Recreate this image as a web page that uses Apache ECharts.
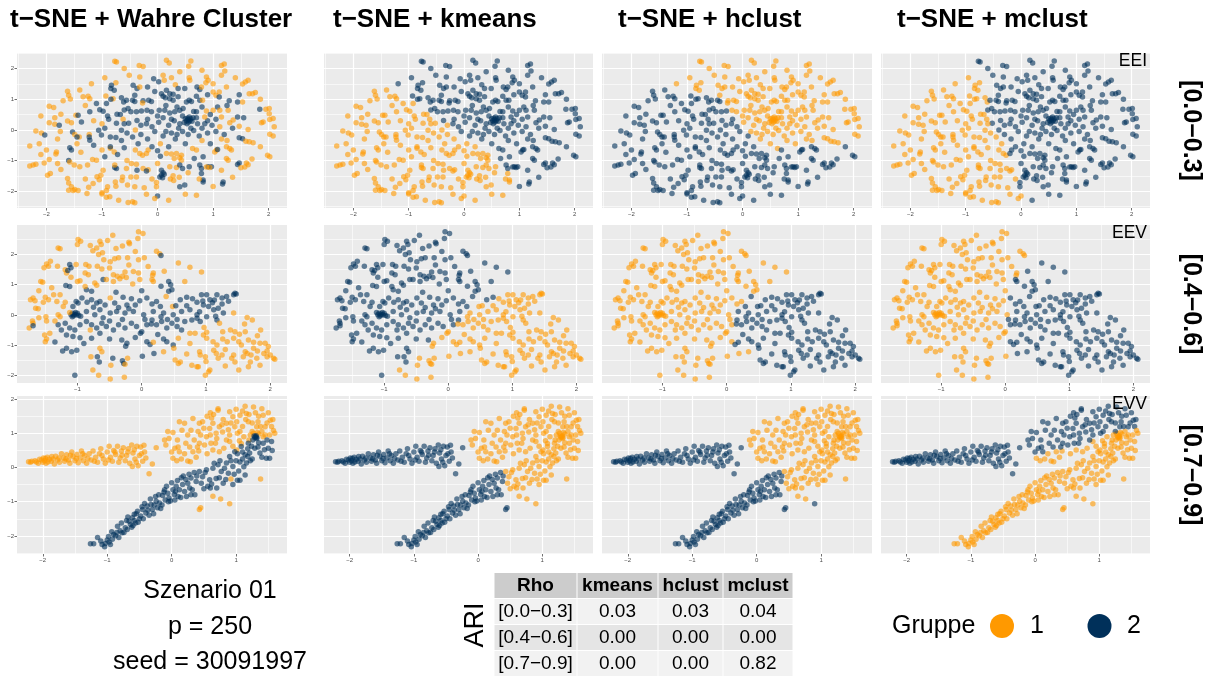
<!DOCTYPE html>
<html>
<head>
<meta charset="utf-8">
<script src="https://cdn.jsdelivr.net/npm/echarts/dist/echarts.min.js"></script>
<style>
html,body{margin:0;padding:0;background:#ffffff;}
#chart{width:1212px;height:679px;}
</style>
</head>
<body>
<div id="chart"></div>
<script>
// t-SNE embeddings, one list per correlation range.
// Each point: [x, y, groups]; groups holds the group (1/2) of the point for
// the true clusters, kmeans, hclust and mclust, in that order.
const rho1Points = [
[-0.77,2.24,'1212'],[-0.74,2.22,'1212'],[-0.33,2.10,'1212'],[-0.26,2.07,'1212'],[0.16,2.27,'1212'],[0.21,2.18,'1212'],[0.60,2.25,'1212'],[0.56,2.08,'1212'],[1.15,2.10,'1212'],[1.20,2.15,'1212'],[1.21,1.92,'1212'],[-0.51,1.78,'1212'],[-0.32,1.73,'1212'],[-0.07,1.67,'2212'],[0.10,1.78,'1212'],[0.12,1.62,'1212'],[0.25,1.70,'1212'],[0.02,1.57,'2212'],[0.57,1.70,'1212'],[0.58,1.62,'1212'],[0.88,1.73,'1212'],[0.91,1.62,'1212'],[0.87,1.54,'1212'],[1.15,1.78,'1212'],[1.63,1.62,'1212'],[1.58,1.56,'1212'],[1.53,1.50,'1212'],[-1.19,1.51,'1211'],[-0.75,1.54,'1211'],[-0.83,1.46,'2211'],[0.32,1.47,'1212'],[1.00,1.51,'1212'],
[-0.84,1.35,'2211'],[-0.78,1.29,'2211'],[-0.44,1.46,'2212'],[-0.37,1.35,'2212'],[-0.32,1.40,'1212'],[-0.18,1.40,'2212'],[0.16,1.29,'2212'],[0.22,1.18,'2212'],[0.28,1.16,'2212'],[0.37,1.35,'2212'],[0.49,1.35,'2212'],[0.71,1.40,'2212'],[0.76,1.32,'2212'],[0.79,1.40,'1212'],[1.24,1.40,'1212'],[-1.62,1.26,'1121'],[-1.60,1.13,'1121'],[-1.57,1.01,'1121'],[-1.34,1.08,'1121'],[-1.25,1.10,'1121'],[-1.22,1.02,'1121'],[-0.93,1.11,'1221'],[-0.65,1.05,'2221'],[-0.41,1.13,'2212'],[0.07,1.18,'2212'],[0.10,1.10,'2212'],[0.37,1.08,'2212'],[0.70,1.10,'2212'],[1.00,1.24,'1212'],[1.11,1.24,'1212'],[1.05,1.13,'1212'],[1.11,1.07,'2212'],[1.47,1.15,'2212'],[1.65,1.18,'1212'],[1.71,1.18,'1212'],[1.76,1.22,'1212'],[-0.80,1.02,'1221'],
[-1.95,0.77,'1121'],[-1.87,0.73,'1121'],[-1.10,0.86,'2121'],[-0.84,1.00,'2221'],[-0.92,0.86,'2121'],[-0.61,0.91,'2221'],[-0.56,0.97,'2222'],[-0.45,0.97,'2222'],[-0.41,0.93,'2222'],[-0.26,0.95,'2212'],[-0.27,0.88,'1212'],[-0.16,0.97,'2212'],[-0.11,0.93,'2212'],[0.14,1.05,'2212'],[0.22,1.02,'2212'],[0.28,0.97,'2212'],[0.52,0.91,'2212'],[0.57,0.97,'2212'],[0.61,0.93,'2212'],[0.76,0.97,'2212'],[0.81,0.97,'1212'],[1.29,0.95,'2212'],[1.44,0.91,'2212'],[1.53,0.91,'1212'],[-1.04,0.66,'2121'],[-0.98,0.61,'2121'],[-1.22,0.59,'2121'],[-1.74,0.51,'1121'],[-1.47,0.48,'1121'],[-1.43,0.48,'2121'],[-0.73,0.51,'2121'],[-0.67,0.50,'2121'],[-0.53,0.70,'2222'],[-0.48,0.59,'2222'],[-0.38,0.59,'2222'],[-0.29,0.62,'2222'],[-0.19,0.64,'2212'],[-0.11,0.59,'2212'],[0.03,0.64,'2212'],[0.13,0.64,'2212'],[0.22,0.55,'2212'],[0.31,0.59,'2212'],[0.40,0.64,'2212'],[0.46,0.70,'2212'],[0.70,0.59,'2212'],[0.88,0.62,'1212'],[1.00,0.64,'1212'],[1.08,0.75,'2212'],[1.12,0.64,'1212'],[1.27,0.64,'1212'],[1.84,0.67,'2212'],[1.95,0.67,'1212'],[2.01,0.70,'1212'],[2.01,0.53,'1212'],
[0.52,0.30,'2212'],[0.55,0.34,'2212'],[0.58,0.30,'2212'],[0.54,0.38,'2212'],[0.60,0.36,'2212'],[0.50,0.36,'2212'],[0.56,0.26,'2212'],[0.62,0.28,'2212'],[0.48,0.24,'2212'],[0.57,0.42,'2212'],[0.53,0.20,'2212'],[0.64,0.40,'2212'],
[-1.95,0.23,'1121'],[-1.85,0.18,'1121'],[-1.77,0.15,'2121'],[-1.62,0.29,'1121'],[-1.55,0.23,'1121'],[-1.37,0.26,'2121'],[-1.15,0.30,'1121'],[-1.00,0.20,'1121'],[-0.88,0.35,'2121'],[-0.74,0.22,'2121'],[-0.62,0.35,'1121'],[-0.52,0.22,'2122'],[-0.37,0.31,'2222'],[-0.30,0.15,'2122'],[-0.18,0.35,'2222'],[-0.10,0.10,'2222'],[0.02,0.25,'2212'],[0.10,0.40,'2212'],[0.20,0.15,'2212'],[0.30,0.30,'2212'],[0.38,0.05,'2212'],[0.72,0.20,'2212'],[0.80,0.05,'2212'],[0.90,0.30,'2212'],[0.98,0.15,'2212'],[1.12,0.10,'1212'],[1.15,0.42,'1212'],[1.30,0.23,'1212'],[1.36,0.32,'1212'],[1.44,0.42,'2212'],[1.55,0.40,'2212'],[1.47,0.12,'1212'],[1.63,0.01,'1212'],[1.90,0.26,'1212'],[1.87,0.23,'1212'],[2.08,0.37,'1212'],[2.02,0.34,'1212'],[0.85,0.42,'1212'],
[-2.19,-0.04,'1121'],[-2.09,-0.10,'1121'],[-2.03,-0.17,'2121'],[-1.53,-0.07,'2121'],[-1.49,-0.15,'1121'],[-1.41,-0.23,'1121'],[-1.45,-0.23,'2121'],[-2.30,-0.53,'1121'],[-2.13,-0.45,'1121'],[-1.80,-0.30,'1121'],[-1.23,-0.15,'1121'],[-1.23,-0.23,'2121'],[-1.22,-0.34,'2121'],[-1.06,-0.01,'2121'],[-1.01,-0.17,'2121'],[-0.85,-0.23,'2121'],[-0.75,-0.25,'2121'],[-0.65,-0.01,'2121'],[-0.55,-0.10,'2121'],[-0.45,-0.23,'2121'],[-0.40,0.00,'1122'],[-0.30,-0.15,'2122'],[-0.18,-0.30,'2122'],[-0.05,-0.05,'2222'],[0.10,-0.20,'2222'],[0.25,-0.10,'2212'],[0.32,-0.30,'2212'],[0.45,-0.05,'2212'],[0.55,-0.15,'2212'],[0.65,-0.02,'2212'],[0.75,-0.20,'2212'],[0.90,-0.10,'2212'],[1.05,-0.05,'2212'],[1.15,-0.30,'1212'],[1.25,-0.35,'1212'],[1.47,-0.26,'2212'],[1.53,-0.29,'2212'],[1.59,-0.37,'1212'],[1.65,-0.39,'1212'],[1.72,-0.42,'1212'],[2.02,-0.14,'1212'],[2.08,-0.20,'1212'],[0.80,-0.35,'1212'],[0.05,-0.45,'1122'],
[-2.00,-0.66,'1121'],[-1.82,-0.72,'1121'],[-1.83,-0.79,'1121'],[-1.58,-0.58,'2121'],[-1.55,-0.66,'2121'],[-1.38,-0.73,'1121'],[-1.00,-0.66,'1121'],[-0.85,-0.60,'1121'],[-0.78,-0.72,'1121'],[-0.95,-0.88,'2121'],[-0.85,-0.55,'2121'],[-0.72,-0.80,'2121'],[-0.60,-0.58,'2121'],[-0.40,-0.66,'1121'],[-0.32,-0.77,'1121'],[-0.27,-0.83,'1121'],[-0.20,-0.77,'1122'],[-0.17,-0.66,'1122'],[0.00,-0.68,'2122'],[0.05,-0.86,'2122'],[0.16,-0.77,'1122'],[0.25,-0.79,'1122'],[0.34,-0.77,'1122'],[0.43,-0.83,'1122'],[0.40,-0.91,'1122'],[0.30,-0.93,'1122'],[0.63,-0.61,'1212'],[0.70,-0.66,'1222'],[0.66,-0.93,'2222'],[0.82,-0.88,'2222'],[1.03,-0.72,'1222'],[1.06,-0.66,'1222'],[1.08,-0.64,'2222'],[1.24,-0.55,'1222'],[1.30,-0.61,'1222'],[1.33,-0.66,'1222'],[1.24,-0.93,'1222'],[1.27,-0.99,'1222'],[1.98,-0.83,'1222'],[2.02,-0.88,'1222'],[-1.95,-0.97,'1121'],
[-2.30,-1.18,'1121'],[-2.24,-1.15,'1121'],[-2.19,-1.12,'1121'],[-2.04,-1.08,'1121'],[-1.74,-1.29,'1121'],[-1.60,-1.00,'2121'],[-1.58,-1.05,'1121'],[-1.50,-1.15,'1121'],[-1.40,-1.20,'1121'],[-1.26,-1.15,'1121'],[-1.17,-0.97,'1121'],[-1.10,-0.99,'1121'],[-0.98,-1.32,'1121'],[-0.77,-1.23,'2121'],[-0.74,-1.26,'2121'],[-0.77,-1.15,'1121'],[-0.56,-1.26,'1121'],[-0.47,-1.10,'1121'],[-0.38,-1.12,'1121'],[-0.26,-1.26,'1121'],[-0.17,-1.30,'1121'],[-0.37,-1.32,'2121'],[-0.20,-1.34,'2121'],[0.00,-1.10,'1122'],[0.22,-1.20,'1122'],[0.34,-1.23,'1122'],[0.43,-0.99,'1122'],[0.40,-1.15,'2122'],[0.45,-1.26,'2122'],[0.57,-1.20,'2122'],[0.76,-1.15,'2222'],[0.79,-1.26,'2222'],[0.91,-1.20,'2222'],[0.97,-1.20,'2222'],[0.88,-1.21,'1222'],[0.94,-1.23,'1222'],[1.15,-1.32,'1222'],[1.60,-1.08,'1222'],[1.63,-1.14,'1222'],[1.57,-1.21,'1222'],[1.47,-1.08,'2222'],[1.44,-1.13,'2222'],[1.50,-1.24,'1222'],[0.07,-1.32,'2122'],[0.10,-1.40,'2122'],[0.12,-1.45,'2122'],[0.07,-1.48,'2122'],[0.04,-1.54,'2122'],[0.09,-1.56,'2122'],
[-1.98,-1.48,'1121'],[-1.93,-1.42,'1121'],[-1.62,-1.59,'1121'],[-1.60,-1.73,'1121'],[-1.55,-1.86,'1121'],[-1.49,-1.95,'1121'],[-1.52,-1.98,'1121'],[-1.60,-1.97,'1121'],[-1.43,-1.98,'1121'],[-1.27,-2.08,'1121'],[-1.24,-1.87,'1121'],[-1.16,-1.75,'1121'],[-1.09,-1.53,'1121'],[-1.02,-1.48,'1121'],[-1.05,-1.63,'1121'],[-1.00,-2.05,'1121'],[-1.00,-2.09,'1121'],[-0.92,-1.98,'1121'],[-0.90,-1.86,'1121'],[-0.92,-2.20,'1121'],[-0.86,-2.18,'1121'],[-0.75,-1.84,'1121'],[-0.76,-1.70,'1121'],[-0.64,-1.65,'1121'],[-0.63,-1.54,'1121'],[-0.54,-1.80,'1121'],[-0.48,-1.54,'1121'],[-0.41,-1.86,'1121'],[-0.38,-1.54,'1121'],[-0.24,-1.89,'1121'],[-0.53,-2.37,'1121'],[-0.45,-2.35,'1121'],[-0.41,-2.38,'1121'],[0.00,-2.16,'2121'],[-0.05,-2.24,'1121'],[-0.02,-1.72,'1122'],[-0.02,-1.86,'1122'],[0.40,-1.86,'2122'],[0.49,-1.80,'2122'],[0.79,-1.42,'2122'],[0.82,-1.64,'2122'],[0.82,-1.70,'2122'],[1.18,-1.70,'2222'],[1.17,-1.77,'2222'],[0.70,-2.13,'1122'],[0.23,-1.60,'1122'],[0.29,-1.65,'1122'],[0.39,-1.55,'1122'],[0.28,-1.50,'1122'],[0.75,-1.60,'1122'],
[-0.60,0.20,'2121'],[-0.20,0.20,'2222'],[0.00,0.45,'2212'],[0.15,0.80,'2212'],[0.35,0.75,'2212'],[0.45,0.45,'2212'],[0.65,0.60,'2212'],[0.80,0.75,'2212'],[0.95,0.50,'2212'],[1.05,0.35,'2212'],[0.40,0.20,'2212'],[0.70,0.40,'2212'],[0.85,0.20,'2212'],[0.25,0.35,'2212'],[0.60,0.05,'2212'],[0.35,-0.15,'2212'],[0.15,-0.05,'2212'],[-0.35,-0.45,'2121'],[-0.10,-0.55,'2122'],[0.20,-0.55,'2122'],[0.50,-0.45,'2212'],[0.95,-0.45,'2212'],[1.20,-0.15,'2212'],[1.35,0.05,'2212'],[1.25,0.80,'2212'],[0.90,1.15,'2212'],[-0.05,1.25,'2212'],[-0.60,0.65,'2222'],[-0.90,0.45,'2121'],[-1.15,-0.50,'2121'],[-0.65,-0.35,'2121'],[-0.95,0.05,'2121'],
[-2.10,0.45,'1121'],[-1.70,0.95,'1121'],[-1.40,1.30,'1121'],[-0.95,1.70,'1211'],[-0.60,2.00,'1212'],[0.40,1.90,'1212'],[0.80,1.95,'1212'],[1.40,1.70,'1212'],[1.85,1.00,'1212'],[2.10,0.10,'1212'],[1.85,-0.55,'1222'],[1.70,-0.95,'1222'],[1.35,-1.55,'1222'],[1.00,-1.85,'1222'],[0.50,-2.10,'1122'],[0.20,-2.30,'1122'],[-0.20,-2.10,'1121'],[-0.70,-2.30,'1121'],[-1.30,-1.60,'1121'],[-1.80,-1.10,'1121'],[-2.10,-0.80,'1121'],[-1.75,-0.05,'1121'],[-1.30,0.80,'1121'],[-0.55,-1.00,'1121'],[-0.10,-1.60,'1121'],[0.55,-1.40,'1122'],[-1.45,-0.45,'1121'],[-1.85,0.40,'1121']
];

const rho2Points = [
[-0.05,2.76,'1211'],[0.02,2.70,'1211'],[-0.45,2.64,'1211'],[-0.65,2.44,'1211'],[-0.63,2.33,'1211'],[-0.53,2.47,'1211'],[-0.99,2.50,'1211'],[-0.95,2.44,'1211'],[-1.00,2.33,'1211'],[-0.76,2.13,'1211'],[-0.70,2.22,'1211'],[-0.20,2.41,'1211'],[-0.19,2.36,'1211'],[-0.30,2.28,'1211'],[-0.06,2.53,'1211'],[-1.30,2.22,'1211'],[-1.27,2.19,'1211'],[-0.61,2.06,'1211'],[0.23,2.11,'1211'],[0.28,2.03,'1211'],[0.30,1.97,'2211'],[-0.67,2.00,'1211'],
[-1.42,1.78,'1211'],[-1.48,1.69,'1211'],[-1.52,1.56,'1211'],[-1.45,1.61,'1211'],[-1.31,1.61,'1211'],[-1.19,1.50,'1211'],[-1.17,1.39,'1211'],[-1.12,1.67,'2211'],[-1.10,1.56,'2211'],[-1.15,1.47,'2211'],[-1.02,1.67,'1211'],[-0.87,1.67,'1211'],[-0.82,1.61,'1211'],[-0.88,1.39,'1211'],[-0.83,1.33,'1211'],[-0.69,1.61,'1211'],[-0.62,1.52,'1211'],[-0.59,1.83,'1211'],[-0.49,1.76,'1211'],[-0.42,1.86,'1211'],[-0.36,1.89,'1211'],[-0.22,1.89,'1211'],[-0.05,1.83,'1211'],[0.04,1.89,'1211'],[-0.44,1.33,'1211'],[-0.38,1.28,'1211'],[-0.30,1.28,'1211'],[-0.26,1.42,'1211'],[-0.13,1.44,'1211'],[-0.05,1.39,'1211'],[0.18,1.39,'1211'],[0.17,1.31,'1211'],[0.57,1.72,'1212'],[0.75,1.58,'1212'],[0.93,1.42,'1212'],[-1.57,1.11,'1211'],[-1.54,1.08,'1211'],[-1.00,1.11,'1211'],[-0.96,1.13,'1211'],[-0.73,1.06,'1211'],[-0.70,0.98,'1211'],[-0.60,1.17,'2211'],[-0.55,1.17,'1211'],[-0.44,1.11,'1211'],[-0.34,1.20,'1211'],[-0.24,1.24,'1211'],[-0.14,1.02,'1211'],[-0.03,1.17,'1211'],[0.16,1.17,'1212'],[0.18,1.11,'1212'],[0.42,1.11,'2212'],[0.45,1.00,'2212'],[0.67,1.11,'1212'],[-1.18,0.97,'2211'],[-1.12,0.94,'2211'],[-0.86,0.83,'2211'],[-0.78,0.78,'2211'],[-0.88,0.94,'1211'],
[-1.69,0.56,'1211'],[-1.66,0.47,'1211'],[-1.73,0.50,'1211'],[-1.50,0.58,'1211'],[-1.45,0.50,'1211'],[-1.53,0.42,'1211'],[-1.37,0.67,'1211'],[-1.27,0.67,'1211'],[-1.32,0.44,'1211'],[-1.65,0.22,'1211'],[-1.61,0.20,'1211'],[-1.19,0.42,'1211'],[-1.22,0.28,'1211'],[-1.07,0.28,'2211'],[-1.02,0.44,'2211'],[-0.99,0.39,'2211'],[-0.93,0.56,'2211'],[-0.85,0.42,'2211'],[-0.78,0.50,'2211'],[-0.70,0.39,'2211'],[-0.65,0.44,'2211'],[-0.57,0.33,'2211'],[-0.49,0.56,'1211'],[-0.42,0.39,'2211'],[-0.36,0.24,'2211'],[-0.29,0.58,'2211'],[-0.23,0.33,'2211'],[-0.16,0.53,'2211'],[-0.10,0.33,'2211'],[-0.03,0.47,'2211'],[0.08,0.56,'2212'],[0.16,0.36,'2212'],[0.23,0.44,'2212'],[0.29,0.28,'2222'],[0.38,0.61,'1222'],[0.42,0.78,'2212'],[0.47,0.83,'2212'],[0.60,0.50,'2222'],[0.70,0.58,'2222'],[0.79,0.53,'2122'],[0.86,0.42,'2122'],[0.93,0.67,'2122'],[1.01,0.67,'2122'],[1.06,0.50,'2122'],[1.17,0.67,'2122'],[1.25,0.56,'2122'],[1.32,0.61,'2122'],[1.43,0.67,'2122'],[1.45,0.72,'2122'],[1.47,0.69,'2122'],[0.48,0.28,'1122'],[0.96,0.33,'2122'],[1.04,0.28,'2122'],[1.12,0.17,'2122'],[1.19,0.22,'2122'],[1.25,0.36,'2122'],[1.43,0.06,'1122'],
[-0.86,0.11,'2211'],[-0.73,0.00,'2211'],[-0.65,0.17,'2211'],[-0.49,0.06,'2211'],[-0.39,0.11,'2211'],[-0.26,0.06,'2211'],[-0.13,0.11,'2211'],[0.03,0.00,'2211'],[0.18,0.11,'2222'],[0.34,0.06,'2122'],[0.49,0.00,'2122'],[0.62,0.11,'2122'],[0.75,0.17,'2122'],[0.86,0.00,'2122'],
[-1.05,0.02,'2211'],[-1.08,0.05,'2211'],[-1.02,0.00,'2211'],[-1.06,-0.03,'2211'],[-1.00,0.05,'2211'],[-1.10,0.00,'2211'],[-1.03,0.08,'2211'],[-0.98,-0.02,'2211'],[-1.12,0.08,'1211'],[-1.08,-0.06,'2211'],
[-1.75,-0.44,'1211'],[-1.70,-0.20,'1211'],[-1.69,-0.28,'1211'],[-1.49,-0.06,'1211'],[-1.48,-0.20,'1211'],[-1.30,0.00,'1211'],[-1.27,-0.06,'1211'],[-1.69,-0.36,'2211'],[-1.51,-0.67,'1211'],[-1.50,-0.89,'1211'],[-1.48,-0.80,'1211'],[-1.43,-0.61,'1211'],[-1.30,-0.33,'2211'],[-1.19,-0.28,'2211'],[-1.12,-0.44,'2211'],[-1.04,-0.50,'2211'],[-0.96,-0.33,'2211'],[-1.17,-0.67,'2211'],[-1.07,-0.72,'2211'],[-0.86,-0.22,'2211'],[-0.78,-0.33,'2211'],[-0.70,-0.44,'2211'],[-0.62,-0.28,'2211'],[-0.55,-0.39,'2211'],[-0.44,-0.50,'2211'],[-0.36,-0.33,'2211'],[-0.26,-0.44,'2211'],[-0.16,-0.28,'2211'],[-0.08,-0.39,'2211'],[0.00,-0.56,'2111'],[0.08,-0.33,'2212'],[-0.80,-0.50,'1211'],[-0.96,-0.76,'2211'],[-0.78,-0.78,'2211'],[-0.65,-0.61,'2211'],[0.16,-0.17,'2222'],[0.23,-0.33,'2122'],[0.31,-0.22,'2122'],[0.39,-0.44,'2122'],[0.47,-0.28,'2122'],[0.55,-0.39,'2122'],[0.62,-0.50,'2122'],[0.67,-0.22,'2122'],[0.78,-0.17,'2122'],[0.86,-0.11,'2122'],[0.91,-0.22,'2122'],[1.01,-0.06,'2122'],[1.17,-0.17,'2122'],[1.27,0.06,'2122'],[0.97,-0.42,'1122'],[1.01,-0.58,'1122'],[0.75,-0.61,'1122'],[0.83,-0.61,'1122'],[0.96,-0.67,'1122'],[0.57,-0.78,'1122'],[1.21,-0.28,'1122'],[1.26,-0.56,'1122'],[1.38,-0.50,'1122'],[1.45,-0.56,'1122'],[1.52,-0.64,'1122'],[1.61,-0.56,'1122'],[1.72,-0.17,'1122'],[1.64,-0.09,'1122'],[1.01,-0.78,'1122'],[1.11,-0.89,'1122'],[1.17,-1.00,'1122'],[1.26,-0.80,'1122'],[1.33,-0.89,'1122'],[1.43,-0.78,'1122'],[1.51,-0.89,'1122'],[1.66,-0.83,'1122'],[1.74,-0.91,'1122'],[1.80,-0.69,'1122'],[1.84,-0.94,'1122'],[1.92,-0.94,'1122'],[1.97,-1.05,'1122'],[0.08,-0.89,'2112'],[0.13,-0.98,'2122'],[0.34,-0.80,'2122'],[0.39,-0.89,'2122'],[0.49,-1.00,'2122'],[-0.31,-0.83,'2211'],[-0.23,-0.94,'2111'],[0.18,-0.91,'1122'],
[-1.23,-1.20,'2211'],[-1.17,-1.11,'2211'],[-1.09,-1.22,'2211'],[-1.01,-1.17,'2211'],[-0.69,-1.39,'2211'],[-0.66,-1.56,'2211'],[-1.04,-2.00,'2211'],[-0.30,-1.52,'2111'],[-0.28,-1.61,'2111'],[-0.65,-1.11,'1211'],[-0.62,-1.22,'1211'],[-0.79,-1.39,'1211'],[-0.48,-1.67,'1111'],[-0.26,-1.64,'1111'],[0.19,-1.28,'2112'],[0.34,-1.22,'1112'],[0.50,-1.11,'1122'],[0.52,-1.50,'1122'],[0.57,-1.61,'1122'],[0.60,-1.56,'1122'],[0.90,-1.22,'1122'],[0.91,-1.33,'1122'],[0.99,-1.39,'1122'],[0.78,-1.67,'1122'],[0.86,-1.72,'1122'],[0.88,-1.72,'1122'],[0.99,-2.00,'1122'],[1.04,-1.89,'1122'],[1.06,-1.83,'1122'],[1.12,-1.17,'1122'],[1.16,-1.28,'1122'],[1.19,-1.44,'1122'],[1.25,-1.33,'1122'],[1.40,-1.44,'1122'],[1.45,-1.56,'1122'],[1.43,-1.33,'1122'],[1.51,-1.83,'1122'],[1.61,-1.22,'1122'],[1.64,-1.28,'1122'],[1.58,-1.39,'1122'],[1.74,-1.11,'1122'],[1.70,-1.33,'1122'],[1.79,-1.44,'1122'],[1.84,-1.67,'1122'],[1.90,-1.28,'1122'],[1.95,-1.39,'1122'],[2.00,-1.33,'1122'],[2.05,-1.44,'1122'],[2.07,-1.47,'1122'],[1.69,-1.56,'1122'],[1.66,-1.72,'1122'],
[-0.76,-1.83,'1111'],[-0.67,-2.00,'1111'],[-0.49,-2.13,'1111'],[-0.27,-2.07,'1111'],[-0.45,-1.44,'2111'],[-0.22,-1.44,'1111'],[-0.25,-1.04,'2111'],[0.01,-1.37,'2111'],[-0.02,-0.61,'2111'],[0.15,-0.30,'2122'],[0.30,-0.06,'2122'],[0.53,0.30,'2122'],[0.95,0.46,'2122'],[1.13,0.49,'2122'],
[-0.95,-0.05,'2211'],[-0.60,-0.10,'2211'],[-0.30,-0.15,'2211'],[0.05,-0.15,'2212'],[0.40,-0.15,'2122'],[0.70,0.30,'2122'],[1.10,0.40,'2122'],[1.35,0.45,'2122'],[-0.50,-0.20,'2211'],[-0.20,0.20,'2211'],[-0.75,0.25,'2211'],[-1.25,-0.50,'2211'],[-1.35,-0.90,'2211'],[-0.90,-0.95,'2211'],[-0.50,-0.80,'2211'],[-0.10,-0.75,'2111'],[0.25,-0.65,'2122'],[0.55,-0.15,'2122'],[0.90,0.10,'2122'],[1.15,-0.05,'2122'],[-0.40,0.75,'2211'],[0.00,0.80,'2211'],[0.30,0.95,'2212'],
[-1.60,0.80,'1211'],[-1.40,0.90,'1211'],[-1.10,1.25,'1211'],[-0.80,2.30,'1211'],[-0.40,2.20,'1211'],[-0.10,2.10,'1211'],[0.10,1.60,'1211'],[0.35,1.45,'1212'],[-0.50,1.55,'1211'],[-0.20,1.65,'1211'],[-1.60,-0.10,'1211'],[-1.35,-0.20,'1211'],[1.55,-1.00,'1122'],[1.30,-1.15,'1122'],[1.00,-1.55,'1122'],[1.80,-1.20,'1122'],[1.95,-1.20,'1122'],[0.70,-1.30,'1122'],[1.30,-1.70,'1122'],[0.75,-0.95,'1122'],[1.60,-0.30,'1122'],[1.85,-0.50,'1122']
];

const rho3Points = [
[-2.22,0.17,'1222'],[-2.19,0.15,'1222'],[-2.17,0.18,'1222'],[-2.10,0.16,'1222'],[-2.05,0.24,'1222'],[-2.02,0.22,'1222'],[-2.00,0.15,'1222'],[-1.99,0.28,'1222'],[-1.97,0.20,'1222'],[-1.96,0.26,'1222'],[-1.95,0.12,'1222'],[-1.93,0.30,'1222'],[-1.90,0.24,'1222'],[-1.87,0.18,'1222'],[-1.84,0.25,'1222'],[-1.82,0.10,'1222'],[-1.80,0.33,'1222'],[-1.77,0.22,'1222'],[-1.74,0.15,'1222'],[-1.71,0.40,'1222'],[-1.68,0.28,'1222'],[-1.66,0.18,'1222'],[-1.63,0.37,'1222'],[-1.60,0.22,'1222'],[-1.58,0.12,'1222'],[-1.55,0.45,'1222'],[-1.53,0.32,'1222'],[-1.50,0.20,'1222'],[-1.47,0.38,'1222'],[-1.45,0.14,'1222'],[-1.42,0.28,'1222'],[-1.40,0.48,'1222'],[-1.37,0.20,'1222'],[-1.35,0.35,'1222'],[-1.32,0.12,'1222'],[-1.28,0.40,'1222'],[-1.25,0.22,'1222'],[-1.22,0.48,'1222'],[-1.18,0.30,'1222'],[-1.15,0.15,'1222'],[-1.12,0.40,'1222'],[-1.10,0.55,'1222'],[-1.06,0.25,'1222'],[-1.03,0.12,'1222'],[-1.00,0.45,'1222'],[-0.97,0.62,'1222'],[-0.95,0.30,'1222'],[-0.92,0.18,'1222'],[-0.90,0.50,'1222'],[-0.87,0.38,'1222'],[-0.84,0.62,'1222'],[-0.82,0.15,'1222'],[-0.80,0.28,'1222'],[-0.78,0.48,'1222'],[-0.75,0.58,'1222'],[-0.72,0.20,'1222'],[-0.70,0.35,'1222'],[-0.67,0.55,'1222'],[-0.65,0.12,'1222'],[-0.62,0.66,'1222'],[-0.60,0.42,'1222'],[-0.57,0.25,'1222'],[-0.54,0.62,'1222'],[-0.52,0.05,'1222'],[-0.50,0.35,'1222'],[-0.48,0.60,'1222'],[-0.45,0.18,'1222'],[-0.42,0.45,'1222'],[-0.40,0.28,'1222'],[-0.35,-0.18,'1222'],[-0.30,0.10,'1222'],[-0.24,0.58,'1222'],[-0.61,0.03,'1222'],
[-2.12,0.20,'1222'],[-2.07,0.12,'1222'],[-1.92,0.16,'1222'],[-1.86,0.32,'1222'],[-1.75,0.28,'1222'],[-1.64,0.25,'1222'],[-1.57,0.36,'1222'],[-1.48,0.26,'1222'],[-1.38,0.40,'1222'],[-1.30,0.26,'1222'],[-1.20,0.18,'1222'],[-1.08,0.35,'1222'],[-0.98,0.22,'1222'],[-0.88,0.45,'1222'],[-0.77,0.36,'1222'],[-0.68,0.45,'1222'],[-0.58,0.52,'1222'],[-0.47,0.40,'1222'],[-0.43,0.65,'1222'],[-0.55,0.15,'1222'],
[-0.06,1.05,'1112'],[-0.04,0.85,'1112'],[0.02,1.02,'1112'],[-0.09,0.66,'1112'],[-0.11,0.80,'1112'],[0.05,0.56,'1112'],[0.12,1.34,'1112'],[0.20,1.29,'1112'],[0.16,1.09,'1112'],[0.09,0.80,'1112'],[0.22,0.71,'1112'],[0.12,0.46,'1112'],[0.02,0.27,'1111'],[0.25,0.19,'1111'],[0.29,0.17,'1111'],[0.33,0.46,'1111'],[0.30,1.09,'1112'],[0.41,1.05,'1112'],[0.43,1.29,'1112'],[0.33,1.43,'1112'],[0.48,1.34,'1112'],[0.59,1.14,'1112'],[0.64,1.29,'1112'],[0.54,0.90,'1112'],[0.43,0.71,'1112'],[0.42,0.48,'1111'],[0.51,0.66,'1112'],[0.61,0.71,'1112'],[0.69,1.00,'1112'],[0.72,1.72,'1112'],[0.72,1.67,'1112'],[0.74,1.19,'1112'],[0.79,1.04,'1112'],[0.85,1.29,'1112'],[0.90,1.63,'1112'],[0.95,1.48,'1112'],[0.98,1.19,'1112'],[1.01,1.34,'1112'],[1.06,1.53,'1112'],[1.14,1.79,'1112'],[1.16,1.58,'1112'],[1.19,1.34,'1112'],[1.27,1.77,'1112'],[1.40,1.72,'1112'],[1.42,1.53,'1112'],[1.53,1.38,'1112'],[1.57,1.40,'1112'],[1.60,1.00,'1111'],[1.45,1.19,'1112'],[1.32,1.19,'1112'],[1.34,1.34,'1112'],[1.06,1.05,'1112'],[0.90,0.95,'1112'],[0.68,0.71,'1112'],[0.81,0.56,'1111'],[0.90,0.76,'1111'],[0.64,0.51,'1111'],[0.74,0.46,'1111'],[1.01,0.51,'1111'],[1.27,1.00,'1111'],[1.25,1.05,'1112'],[1.35,0.98,'1111'],[1.33,1.02,'1111'],
[0.35,0.80,'1112'],[0.55,1.50,'1112'],[0.65,1.55,'1112'],[0.80,1.40,'1112'],[0.88,1.10,'1112'],[1.10,1.20,'1112'],[1.20,1.55,'1112'],[1.30,1.60,'1112'],[1.50,1.60,'1112'],[1.45,0.95,'1111'],[1.40,1.05,'1111'],[1.55,1.20,'1112'],[1.12,0.90,'1111'],[1.05,0.78,'1111'],[0.95,0.62,'1111'],[0.15,0.25,'1111'],[0.38,0.30,'1111'],[0.60,0.95,'1112'],[0.25,0.95,'1112'],[1.20,0.80,'1111'],[0.00,0.45,'1112'],
[0.10,0.60,'1112'],[0.28,0.60,'1112'],[0.45,0.95,'1112'],[0.50,1.15,'1112'],[0.62,1.45,'1112'],[0.78,1.25,'1112'],[0.92,1.30,'1112'],[1.02,1.00,'1112'],[1.15,1.40,'1112'],[1.25,1.30,'1112'],[1.38,1.20,'1112'],[1.48,1.30,'1112'],[1.58,1.08,'1111'],[1.52,0.95,'1111'],[1.42,0.90,'1111'],[1.22,0.95,'1111'],[1.08,0.70,'1111'],[0.85,0.80,'1112'],[0.70,0.85,'1112'],[0.55,0.40,'1111'],[0.20,0.40,'1111'],[0.08,0.20,'1111'],[0.40,0.60,'1112'],[1.00,1.70,'1112'],[0.60,1.60,'1112'],[1.35,1.50,'1112'],[1.10,1.65,'1112'],
[-1.26,-2.23,'2221'],[-1.21,-2.23,'2221'],[-1.08,-2.25,'2221'],[-1.03,-2.22,'2221'],[-0.97,-2.18,'2221'],[-1.04,-2.32,'2221'],[-0.92,-2.10,'2221'],[-0.87,-2.00,'2221'],[-0.90,-1.96,'2221'],[-0.82,-2.05,'2221'],[-0.77,-1.91,'2221'],[-0.72,-1.76,'2221'],[-0.69,-1.81,'2221'],[-0.64,-1.67,'2221'],[-0.66,-1.57,'2221'],[-0.61,-1.47,'2221'],[-0.56,-1.62,'2221'],[-0.58,-1.37,'2221'],[-0.53,-1.28,'2221'],[-0.48,-1.42,'2221'],[-0.45,-1.23,'2221'],[-0.40,-1.33,'2221'],[-0.38,-1.13,'2221'],[-0.32,-1.08,'2221'],[-0.30,-1.23,'2221'],[-0.24,-0.99,'2221'],[-0.22,-1.18,'2221'],[-0.19,-1.04,'2221'],[-0.14,-0.82,'2221'],[-0.11,-0.65,'2221'],[-0.06,-0.75,'2221'],[-0.04,-0.89,'2221'],[0.02,-0.65,'2221'],[0.04,-0.79,'2221'],[0.07,-0.55,'2221'],[0.12,-0.65,'2221'],[0.17,-0.50,'2221'],[0.20,-0.70,'2221'],[0.25,-0.46,'2221'],[0.28,-0.60,'2221'],[0.30,-0.31,'2221'],[0.38,-0.41,'2221'],[-1.00,-2.12,'2221'],[-0.95,-2.25,'2221'],[-0.80,-1.85,'2221'],[-0.62,-1.75,'2221'],[-0.50,-1.50,'2221'],[-0.35,-1.40,'2221'],[-0.25,-0.85,'2221'],[-0.05,-1.00,'2221'],[0.10,-0.85,'2221'],[0.30,-0.80,'2221'],[0.35,-0.15,'2221'],[0.15,-0.30,'2221'],[-0.85,-1.90,'2221'],[-0.70,-1.55,'2221'],[-0.42,-1.05,'2221'],[-0.15,-1.10,'2221'],[0.22,-0.35,'2221'],
[-1.15,-2.05,'2221'],[-1.10,-2.15,'2221'],[-0.98,-2.02,'2221'],[-0.93,-1.88,'2221'],[-0.84,-1.72,'2221'],[-0.78,-1.62,'2221'],[-0.74,-1.90,'2221'],[-0.68,-1.45,'2221'],[-0.60,-1.70,'2221'],[-0.55,-1.35,'2221'],[-0.52,-1.60,'2221'],[-0.46,-1.15,'2221'],[-0.44,-1.50,'2221'],[-0.37,-1.25,'2221'],[-0.33,-0.92,'2221'],[-0.28,-1.35,'2221'],[-0.20,-0.80,'2221'],[-0.17,-1.20,'2221'],[-0.10,-0.95,'2221'],[-0.08,-0.55,'2221'],[-0.02,-0.98,'2221'],[0.00,-0.45,'2221'],[0.05,-0.95,'2221'],[0.09,-0.38,'2221'],[0.14,-0.88,'2221'],[0.18,-0.25,'2221'],[0.23,-0.85,'2221'],[0.27,-0.20,'2221'],[0.32,-0.65,'2221'],[0.36,-0.80,'2221'],[0.39,-0.25,'2221'],[-0.12,-0.72,'2221'],[0.06,-0.70,'2221'],[-0.27,-1.10,'2221'],[-0.58,-1.55,'2221'],
[0.43,-0.12,'2111'],[0.46,-0.46,'2111'],[0.48,-0.27,'2111'],[0.54,-0.07,'2111'],[0.59,-0.36,'2111'],[0.56,-0.55,'2111'],[0.64,-0.02,'2111'],[0.69,-0.32,'2111'],[0.72,0.08,'2111'],[0.77,-0.12,'2111'],[0.80,-0.46,'2111'],[0.85,0.13,'2111'],[0.88,-0.17,'2111'],[0.90,0.32,'2111'],[0.95,0.03,'2111'],[0.98,0.46,'2111'],[1.02,-0.37,'2111'],[1.06,0.16,'2111'],[1.08,0.61,'2111'],[1.14,0.37,'2111'],[1.16,0.13,'2111'],[1.19,0.71,'2111'],[1.21,0.42,'2111'],[1.26,0.80,'2111'],[1.29,0.56,'2111'],[1.32,0.85,'2111'],[1.37,0.42,'2111'],[1.42,0.71,'2111'],[1.47,0.27,'2111'],[1.50,0.56,'2111'],[1.55,0.76,'2111'],[1.14,-0.22,'2111'],[1.06,-0.37,'2111'],[1.52,0.27,'2111'],[0.60,-0.60,'2111'],[0.75,0.20,'2111'],[0.95,-0.50,'2111'],[1.00,0.20,'2111'],[1.25,0.25,'2111'],[1.10,0.45,'2111'],[1.30,0.90,'2111'],[1.28,0.92,'2111'],[1.32,0.88,'2111'],[1.29,0.87,'2111'],[1.31,0.93,'2111'],
[0.50,-0.62,'2111'],[0.52,-0.15,'2111'],[0.62,-0.48,'2111'],[0.66,0.12,'2111'],[0.70,-0.60,'2111'],[0.74,-0.30,'2111'],[0.82,-0.02,'2111'],[0.84,-0.35,'2111'],[0.92,0.20,'2111'],[0.97,-0.20,'2111'],[1.02,0.40,'2111'],[1.04,-0.10,'2111'],[1.10,0.25,'2111'],[1.12,0.02,'2111'],[1.18,0.55,'2111'],[1.22,0.20,'2111'],[1.24,0.62,'2111'],[1.34,0.60,'2111'],[1.40,0.30,'2111'],[1.44,0.52,'2111'],[1.48,0.80,'2111'],[1.56,0.50,'2111'],[1.35,0.72,'2111'],[1.18,0.32,'2111'],
[0.43,-1.23,'1221'],[0.45,-1.18,'1221'],[0.64,-0.84,'1111'],[0.76,-0.92,'1111'],[0.90,-1.06,'1121'],[0.92,-0.34,'1111'],[1.38,-0.34,'1111']
];

// Axis limits and tick values per row (shared by the four columns of a row)
const xRange = [[-2.53, 2.33], [-1.94, 2.26], [-2.40, 1.79]];
const yRange = [[-2.55, 2.51], [-2.26, 2.98], [-2.53, 2.09]];
const xTicks = [[-2, -1, 0, 1, 2], [-1, 0, 1, 2], [-2, -1, 0, 1]];
const yTicks = [[-2, -1, 0, 1, 2], [-2, -1, 0, 1, 2], [-2, -1, 0, 1, 2]];

// Texts
const methodTitles = ['t\u2212SNE + Wahre Cluster', 't\u2212SNE + kmeans', 't\u2212SNE + hclust', 't\u2212SNE + mclust'];
const rhoLabels = ['[0.0\u22120.3]', '[0.4\u22120.6]', '[0.7\u22120.9]'];
const modelLabels = ['EEI', 'EEV', 'EVV'];
const infoLines = ['Szenario 01', 'p = 250', 'seed = 30091997'];

// ARI table
const tableHead = ['Rho', 'kmeans', 'hclust', 'mclust'];
const ariRho = ['[0.0\u22120.3]', '[0.4\u22120.6]', '[0.7\u22120.9]'];
const ariKmeans = ['0.03', '0.00', '0.00'];
const ariHclust = ['0.03', '0.00', '0.00'];
const ariMclust = ['0.04', '0.00', '0.82'];

// Legend
const legendTitle = 'Gruppe';
const groupNames = ['1', '2'];

const ORANGE = '#FF9900';
const NAVY = '#00305A';
const FONT = '"Liberation Sans", Arial, Helvetica, sans-serif';
const groupColor = [ORANGE, NAVY];

const rowsData = [rho1Points, rho2Points, rho3Points];

// Panel placement
const panelLeft = [17, 324, 602, 881];
const panelWidth = [270, 269, 270, 269];
const panelTop = [53, 225, 396];
const panelHeight = [155, 158, 158];

function tickText(v) {
  if (Math.abs(v - Math.round(v)) > 1e-6) return '';
  const n = Math.round(v);
  return n < 0 ? '\u2212' + (-n) : String(n);
}

const grids = [], xAxes = [], yAxes = [], series = [];
for (let r = 0; r < 3; r++) {
  for (let c = 0; c < 4; c++) {
    const idx = grids.length;
    grids.push({
      left: panelLeft[c], top: panelTop[r], width: panelWidth[c], height: panelHeight[r],
      show: true, backgroundColor: '#EBEBEB', borderWidth: 0
    });
    const common = {
      type: 'value', gridIndex: idx,
      axisLine: { show: false, onZero: false },
      splitLine: { show: true, lineStyle: { color: '#FFFFFF', width: 1.2 } },
      minorTick: { show: false, splitNumber: 2 },
      minorSplitLine: { show: true, lineStyle: { color: '#FFFFFF', width: 0.6 } }
    };
    xAxes.push(Object.assign({}, common, {
      position: 'bottom',
      min: xRange[r][0], max: xRange[r][1],
      axisTick: { show: true, length: 2.5, lineStyle: { color: '#333333', width: 0.7 }, customValues: xTicks[r] },
      axisLabel: { show: true, fontSize: 6, color: '#4D4D4D', margin: 3, fontFamily: FONT, formatter: tickText, customValues: xTicks[r] }
    }));
    yAxes.push(Object.assign({}, common, {
      position: 'left',
      min: yRange[r][0], max: yRange[r][1],
      axisTick: { show: c === 0, length: 2.5, lineStyle: { color: '#333333', width: 0.7 }, customValues: yTicks[r] },
      axisLabel: { show: c === 0, fontSize: 6, color: '#4D4D4D', margin: 3, fontFamily: FONT, formatter: tickText, customValues: yTicks[r] }
    }));
    series.push({
      type: 'scatter', xAxisIndex: idx, yAxisIndex: idx,
      symbol: 'circle', symbolSize: 5.5, silent: true,
      data: rowsData[r].map(p => [p[0], p[1], Number(p[2][c])]),
      itemStyle: { opacity: 0.6, color: params => groupColor[params.data[2] - 1] }
    });
  }
}

const graphics = [];
function addText(x, y, text, font, align, vAlign, rotation) {
  graphics.push({
    type: 'text', x: x, y: y, rotation: rotation || 0, z: 100,
    style: { x: 0, y: 0, text: text, font: font, fill: '#000000',
             textAlign: align, textVerticalAlign: vAlign, align: align, verticalAlign: vAlign }
  });
}

// column titles
const titleLeft = [10, 333, 618, 897];
methodTitles.forEach((t, i) => addText(titleLeft[i], 20, t, 'bold 26px ' + FONT, 'left', 'middle'));

// row strips on the right
rhoLabels.forEach((t, r) => addText(1191, panelTop[r] + panelHeight[r] / 2, t, 'bold 25px ' + FONT, 'center', 'middle', -Math.PI / 2));

// covariance model of the mclust fit
modelLabels.forEach((t, r) => addText(1147, panelTop[r] - 1, t, '17.5px ' + FONT, 'right', 'top'));

// scenario info
const infoY = [591, 627, 662];
infoLines.forEach((t, i) => addText(210, infoY[i], t, '25px ' + FONT, 'center', 'middle'));

// ARI table
const colEdges = [494, 577, 658, 723, 793];
const tableTop = 573, rowStep = 26, cellH = 25;
const tableCols = [ariRho, ariKmeans, ariHclust, ariMclust];
for (let i = 0; i < 4; i++) {
  const y0 = tableTop + i * rowStep;
  const fill = i === 0 ? '#CCCCCC' : (i % 2 === 1 ? '#F2F2F2' : '#E5E5E5');
  for (let j = 0; j < 4; j++) {
    graphics.push({ type: 'rect', z: 90,
      shape: { x: colEdges[j] + 0.5, y: y0, width: colEdges[j + 1] - colEdges[j] - 1, height: cellH },
      style: { fill: fill } });
    const text = i === 0 ? tableHead[j] : tableCols[j][i - 1];
    addText((colEdges[j] + colEdges[j + 1]) / 2, y0 + cellH / 2 + 0.5, text,
      (i === 0 ? 'bold ' : '') + '19px ' + FONT, 'center', 'middle');
  }
}
addText(476, 625, 'ARI', '27px ' + FONT, 'center', 'middle', Math.PI / 2);

// legend
addText(892, 626, legendTitle, '25px ' + FONT, 'left', 'middle');
const legendDotX = [1002, 1099.5];
const legendTextX = [1030, 1127];
groupNames.forEach((g, i) => {
  graphics.push({ type: 'circle', z: 100, shape: { cx: legendDotX[i], cy: 626, r: 12 }, style: { fill: groupColor[i] } });
  addText(legendTextX[i], 626, g, '25px ' + FONT, 'left', 'middle');
});

const chart = echarts.init(document.getElementById('chart'), null, { renderer: 'canvas' });
chart.setOption({
  animation: false,
  backgroundColor: '#FFFFFF',
  grid: grids,
  xAxis: xAxes,
  yAxis: yAxes,
  series: series,
  graphic: { elements: graphics }
});
</script>
</body>
</html>
